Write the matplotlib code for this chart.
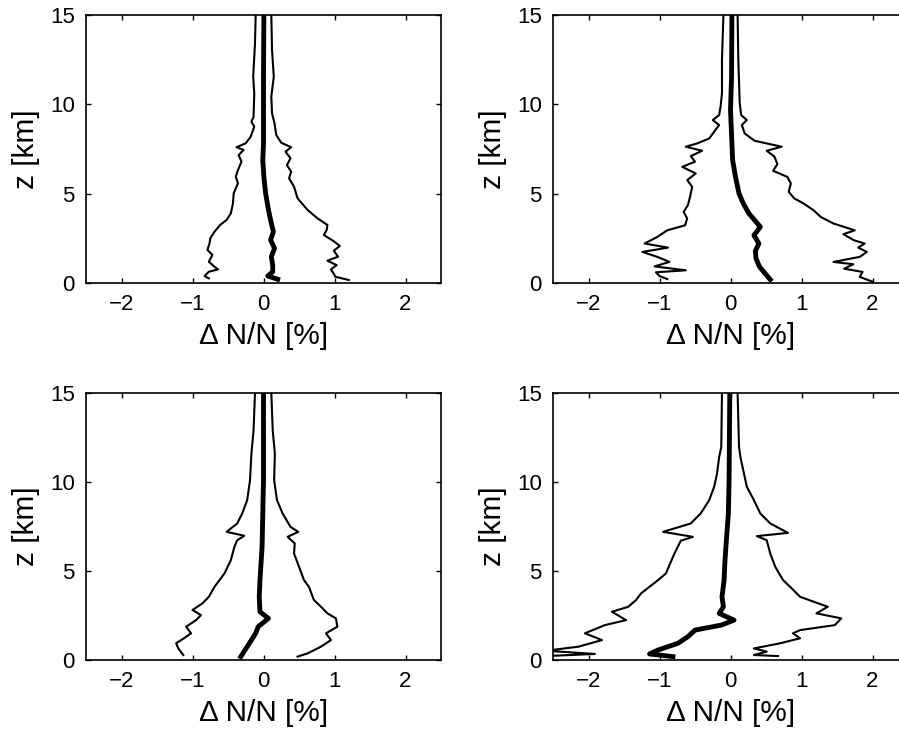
import numpy as np
import matplotlib.pyplot as plt

plt.rcParams['font.family'] = ['Liberation Sans', 'DejaVu Sans']
plt.rcParams['axes.unicode_minus'] = True

# Panel 1 (oben links)
p1_left_x = [-0.11, -0.12, -0.145, -0.13, -0.14, -0.17, -0.13, -0.18, -0.25, -0.38, -0.28, -0.35, -0.31,
             -0.36, -0.39, -0.36, -0.42, -0.43, -0.46, -0.52, -0.61, -0.69, -0.75, -0.76, -0.79, -0.72,
             -0.77, -0.69, -0.64, -0.77, -0.83, -0.77]
p1_left_z = [15.0, 13.4, 11.55, 10.6, 9.3, 9.03, 8.75, 8.19, 7.82, 7.6, 7.45, 7.16, 6.79,
             6.32, 5.95, 5.58, 5.02, 4.46, 3.9, 3.53, 3.25, 2.87, 2.5, 2.22, 1.85, 1.57,
             1.19, 0.91, 0.76, 0.63, 0.39, 0.26]
p1_mid_x = [0.005, 0.0, 0.0, -0.01, 0.005, 0.03, 0.07, 0.11, 0.14, 0.10, 0.155, 0.11, 0.13, 0.13, 0.06, 0.2]
p1_mid_z = [15.0, 11.55, 7.82, 6.88, 5.95, 5.02, 4.09, 3.34, 2.87, 2.41, 1.94, 1.47, 1.0, 0.63, 0.39, 0.21]
p1_right_x = [0.11, 0.12, 0.145, 0.11, 0.12, 0.155, 0.18, 0.25, 0.39, 0.31, 0.38, 0.33, 0.39, 0.36, 0.43,
              0.48, 0.62, 0.76, 0.90, 0.89, 0.85, 1.0, 1.075, 0.99, 1.05, 0.90, 1.03, 0.95, 1.0, 1.01, 1.2]
p1_right_z = [15.0, 13.04, 11.55, 10.43, 9.5, 8.94, 8.28, 7.85, 7.6, 7.35, 6.98, 6.6, 6.23, 5.86, 5.39,
              4.74, 4.09, 3.62, 3.25, 2.97, 2.69, 2.31, 2.07, 1.81, 1.47, 1.25, 1.0, 0.76, 0.45, 0.35, 0.17]

# Panel 2 (oben rechts)
p2_left_x = [-0.10, -0.12, -0.12, -0.14, -0.16, -0.25, -0.16, -0.23, -0.30, -0.47, -0.63, -0.40, -0.56,
             -0.50, -0.68, -0.49, -0.61, -0.54, -0.57, -0.60, -0.66, -0.61, -0.64, -0.89, -1.03, -1.21,
             -0.88, -1.24, -1.03, -0.86, -1.07, -0.63, -1.05, -1.0, -0.89]
p2_left_z = [15.0, 12.49, 10.62, 9.87, 9.4, 9.12, 8.84, 8.47, 8.09, 7.81, 7.63, 7.4, 7.1,
             6.79, 6.5, 6.13, 5.76, 5.38, 4.82, 4.36, 3.98, 3.61, 3.23, 2.95, 2.58, 2.21,
             1.98, 1.74, 1.46, 1.18, 0.93, 0.71, 0.6, 0.39, 0.22]
p2_mid_x = [0.02, 0.015, 0.0, 0.02, 0.03, 0.07, 0.12, 0.18, 0.26, 0.42, 0.33, 0.40, 0.35, 0.36, 0.41, 0.49, 0.56]
p2_mid_z = [15.0, 11.55, 9.68, 7.81, 6.88, 5.94, 5.01, 4.45, 3.89, 3.14, 2.67, 2.21, 1.79, 1.36, 0.9, 0.52, 0.19]
p2_right_x = [0.10, 0.11, 0.13, 0.15, 0.23, 0.16, 0.20, 0.34, 0.72, 0.51, 0.62, 0.66, 0.60, 0.80, 0.85,
              0.82, 0.90, 1.03, 1.17, 1.27, 1.45, 1.75, 1.59, 1.74, 1.89, 1.80, 1.92, 1.82, 1.45, 1.73,
              1.60, 1.86, 1.82, 2.01]
p2_right_z = [15.0, 12.49, 10.06, 9.4, 9.12, 8.84, 8.37, 7.96, 7.63, 7.4, 7.07, 6.65, 6.28, 5.94, 5.57,
              5.1, 4.73, 4.45, 4.07, 3.7, 3.33, 2.95, 2.73, 2.39, 2.21, 1.98, 1.74, 1.46, 1.18, 1.05,
              0.8, 0.62, 0.34, 0.06]

# Panel 3 (unten links)
p3_left_x = [-0.12, -0.14, -0.17, -0.19, -0.23, -0.30, -0.37, -0.52, -0.27, -0.37, -0.41, -0.46, -0.55,
             -0.69, -0.77, -0.86, -1.0, -0.88, -0.95, -1.09, -1.02, -1.12, -1.23, -1.2, -1.13]
p3_left_z = [15.0, 12.9, 11.6, 10.1, 8.98, 8.23, 7.67, 7.2, 6.98, 6.73, 6.36, 5.61, 4.86,
             4.11, 3.55, 3.18, 2.81, 2.52, 2.24, 1.87, 1.5, 1.22, 0.94, 0.65, 0.28]
p3_mid_x = [0.0, 0.0, -0.02, -0.05, -0.06, -0.05, 0.07, -0.075, -0.11, -0.17, -0.23, -0.32]
p3_mid_z = [15.0, 10.1, 6.36, 4.49, 3.55, 2.71, 2.34, 1.87, 1.5, 1.12, 0.75, 0.19]
p3_right_x = [0.11, 0.13, 0.16, 0.15, 0.19, 0.27, 0.38, 0.49, 0.34, 0.44, 0.43, 0.50, 0.57, 0.64,
              0.71, 0.81, 0.90, 1.02, 1.04, 0.88, 0.95, 0.81, 0.62, 0.48]
p3_right_z = [15.0, 12.9, 11.6, 10.1, 8.98, 8.23, 7.48, 7.2, 6.92, 6.55, 5.98, 5.24, 4.49, 4.11,
              3.37, 2.99, 2.62, 2.34, 1.87, 1.5, 1.12, 0.75, 0.37, 0.19]

# Panel 4 (unten rechts)
p4_left_x = [-0.12, -0.13, -0.16, -0.19, -0.23, -0.30, -0.42, -0.56, -0.95, -0.53, -0.70, -0.79, -0.91,
             -1.02, -1.26, -1.33, -1.44, -1.67, -1.47, -1.77, -2.05, -1.81, -2.14, -2.6, -1.91, -2.6]
p4_left_z = [15.0, 11.97, 11.4, 10.47, 9.73, 8.98, 8.23, 7.67, 7.2, 6.92, 6.7, 5.98, 4.86,
             4.49, 3.74, 3.37, 2.99, 2.71, 2.24, 1.96, 1.5, 1.12, 0.75, 0.52, 0.34, 0.22]
p4_mid_x = [-0.01, -0.02, -0.03, -0.065, -0.08, -0.09, -0.12, -0.10, -0.16, 0.05, -0.13, -0.50, -0.60,
            -0.74, -1.02, -1.14, -0.81]
p4_mid_z = [15.0, 10.1, 8.23, 6.36, 5.42, 4.49, 3.55, 2.99, 2.62, 2.24, 1.96, 1.68, 1.31,
            0.94, 0.56, 0.34, 0.19]
p4_right_x = [0.10, 0.12, 0.14, 0.19, 0.23, 0.33, 0.42, 0.56, 0.81, 0.37, 0.51, 0.56, 0.63, 0.74,
              0.84, 0.98, 1.37, 1.21, 1.56, 1.47, 0.98, 0.88, 0.98, 0.70, 0.33, 0.51, 0.33, 0.67]
p4_right_z = [15.0, 11.97, 11.4, 10.47, 9.73, 8.98, 8.23, 7.67, 7.14, 6.96, 6.73, 5.98, 5.24, 4.49,
              4.11, 3.55, 2.99, 2.62, 2.34, 1.96, 1.68, 1.5, 1.22, 0.94, 0.65, 0.47, 0.28, 0.22]

panels = [
    (p1_left_x, p1_left_z, p1_mid_x, p1_mid_z, p1_right_x, p1_right_z),
    (p2_left_x, p2_left_z, p2_mid_x, p2_mid_z, p2_right_x, p2_right_z),
    (p3_left_x, p3_left_z, p3_mid_x, p3_mid_z, p3_right_x, p3_right_z),
    (p4_left_x, p4_left_z, p4_mid_x, p4_mid_z, p4_right_x, p4_right_z),
]

W, H = 899, 730
fig = plt.figure(figsize=(W / 100, H / 100), dpi=100)

# Achsenpositionen in Pixel (links, oben, rechts, unten)
boxes = [(86, 15, 441, 283), (553, 15, 908, 283),
         (86, 393, 441, 660), (553, 393, 908, 660)]

for (l, t, r, b), (lx, lz, mx, mz, rx, rz) in zip(boxes, panels):
    ax = fig.add_axes([l / W, 1 - b / H, (r - l) / W, (b - t) / H])
    ax.plot(lx, lz, color='k', lw=1.5)
    ax.plot(rx, rz, color='k', lw=1.5)
    ax.plot(mx, mz, color='k', lw=3.5)
    ax.set_xlim(-2.5, 2.5)
    ax.set_ylim(0, 15)
    ax.set_xticks([-2, -1, 0, 1, 2])
    ax.set_yticks([0, 5, 10, 15])
    ax.tick_params(direction='in', top=True, right=True, length=3.5, width=1,
                   labelsize=16, pad=8)
    for s in ax.spines.values():
        s.set_linewidth(1.2)
    ax.set_xlabel('Δ N/N [%]', fontsize=21.5, labelpad=5)
    ax.set_ylabel('z [km]', fontsize=21.5, labelpad=7)

plt.savefig('out.png', dpi=100)
